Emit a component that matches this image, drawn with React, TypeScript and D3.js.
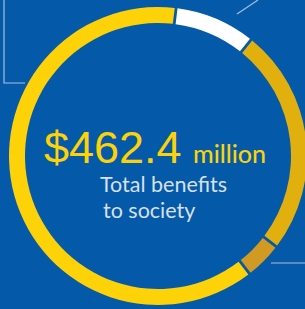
import React from 'react';
import * as d3 from 'd3';

// segment values in $ millions, read clockwise from the top
const segments = ['Segment A', 'Segment B', 'Segment C', 'Segment D'];
const values = [40, 114, 18, 290.4];
const colors = ['#ffffff', '#e2b00e', '#d19a22', '#fdd208'];

const totalLabel = '$462.4';
const unitLabel = 'million';
const captionLines = ['Total benefits', 'to society'];

const width = 305;
const height = 309;

const App = () => {
  const cx = 158;
  const cy = 156;
  const outerR = 149;
  const innerR = 133;

  const pie = d3.pie<number>()
    .sort(null)
    .value(d => d)
    .startAngle((7 * Math.PI) / 180)
    .endAngle((7 * Math.PI) / 180 + Math.PI * 2)
    .padAngle(0.014);

  const arc = d3.arc<d3.PieArcDatum<number>>()
    .innerRadius(innerR)
    .outerRadius(outerR);

  const arcs = pie(values);

  return (
    <svg
      width={width}
      height={height}
      style={{ position: 'fixed', left: 0, top: 0, display: 'block' }}
    >
      <rect width={width} height={height} fill="#045aa8" />

      {/* callout lines */}
      <polyline points="4,0 4,83 25,83" fill="none" stroke="#a9bfdc" strokeWidth={1.2} />
      <line x1={237} y1={14} x2={258} y2={0} stroke="#a9bfdc" strokeWidth={1.2} />
      <line x1={271} y1={263} x2={305} y2={263} stroke="#a9bfdc" strokeWidth={1.2} />

      <g transform={`translate(${cx},${cy})`}>
        {arcs.map((a, i) => (
          <path key={segments[i]} d={arc(a) || ''} fill={colors[i]} />
        ))}
      </g>

      <text x={44} y={163} fill="#fdd208" fontFamily="'Liberation Sans', Arial, sans-serif" fontSize={45}>
        {totalLabel}
      </text>
      <text x={193} y={163} fill="#fdd208" fontFamily="Lato, sans-serif" fontSize={25} fontWeight={500}>
        {unitLabel}
      </text>
      <text x={100} y={192} fill="#d9e0eb" fontFamily="Lato, sans-serif" fontSize={21.5}>
        {captionLines[0]}
      </text>
      <text x={103} y={218} fill="#d9e0eb" fontFamily="Lato, sans-serif" fontSize={21.5}>
        {captionLines[1]}
      </text>
    </svg>
  );
};

export default App;
